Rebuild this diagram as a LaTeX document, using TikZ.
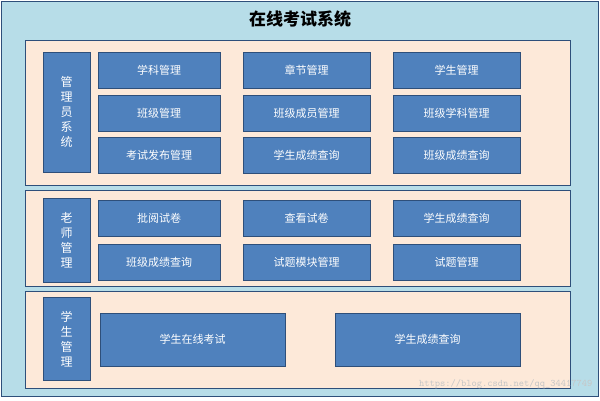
\documentclass[tikz,border=0pt]{standalone}
\usepackage{fontspec}
\setmainfont{Noto Sans CJK SC}
\usetikzlibrary{positioning}
\definecolor{bgBlue}{HTML}{B7DDE8}
\definecolor{panelPeach}{HTML}{FDE9D9}
\definecolor{boxBlue}{HTML}{4F81BD}
\definecolor{boxEdge}{HTML}{2E4F7A}
\tikzset{
  panel/.style={draw=boxEdge, fill=panelPeach, line width=0.8pt},
  modbox/.style={draw=boxEdge, fill=boxBlue, text=white, line width=0.8pt,
                 font=\fontsize{11}{13}\selectfont, minimum height=36pt,
                 inner sep=0pt},
  rolebox/.style={modbox, minimum width=47pt, align=center,
                  font=\fontsize{12}{15}\selectfont},
}
\begin{document}
\begin{tikzpicture}[x=1pt,y=-1pt]
\useasboundingbox (0,0) rectangle (600,400);
\draw[fill=bgBlue, draw=boxEdge] (1,1) rectangle (598,396);
\node[font=\fontsize{17}{20}\selectfont\bfseries] (title) at (300,19) {在线考试系统};

%% panels
\draw[panel] (25,40) rectangle (570,185);
\draw[panel] (25,190) rectangle (570,286);
\draw[panel] (25,291) rectangle (570,388);

%% admin
\node[rolebox, minimum height=120pt] (admin) at (66.5,112) {管\\理\\员\\系\\统};
\node[modbox, minimum width=122pt] (a1) at (159,70) {学科管理};
\node[modbox, minimum width=127pt] (a2) at (306.5,70) {章节管理};
\node[modbox, minimum width=127pt] (a3) at (456.5,70) {学生管理};
\node[modbox, minimum width=122pt] (a4) at (159,113) {班级管理};
\node[modbox, minimum width=127pt] (a5) at (306.5,113) {班级成员管理};
\node[modbox, minimum width=127pt] (a6) at (456.5,113) {班级学科管理};
\node[modbox, minimum width=122pt] (a7) at (159,155) {考试发布管理};
\node[modbox, minimum width=127pt] (a8) at (306.5,155) {学生成绩查询};
\node[modbox, minimum width=127pt] (a9) at (456.5,155) {班级成绩查询};

%% teacher
\node[rolebox, minimum height=84pt] (teacher) at (66.5,240) {老\\师\\管\\理};
\node[modbox, minimum width=122pt] (t1) at (159,218) {批阅试卷};
\node[modbox, minimum width=127pt] (t2) at (306.5,218) {查看试卷};
\node[modbox, minimum width=127pt] (t3) at (456.5,218) {学生成绩查询};
\node[modbox, minimum width=122pt] (t4) at (159,262) {班级成绩查询};
\node[modbox, minimum width=127pt] (t5) at (306.5,262) {试题模块管理};
\node[modbox, minimum width=127pt] (t6) at (456.5,262) {试题管理};

%% student
\node[rolebox, minimum height=83pt] (student) at (66.5,339) {学\\生\\管\\理};
\node[modbox, minimum width=185pt, minimum height=53pt] (s1) at (192.5,339.5) {学生在线考试};
\node[modbox, minimum width=185pt, minimum height=53pt] (s2) at (427.5,339.5) {学生成绩查询};

\node[text=gray!45, font=\fontsize{10}{12}\ttfamily, anchor=east] (mark) at (596,384) {https://blog.csdn.net/qq\_34417749};
\end{tikzpicture}
\end{document}
